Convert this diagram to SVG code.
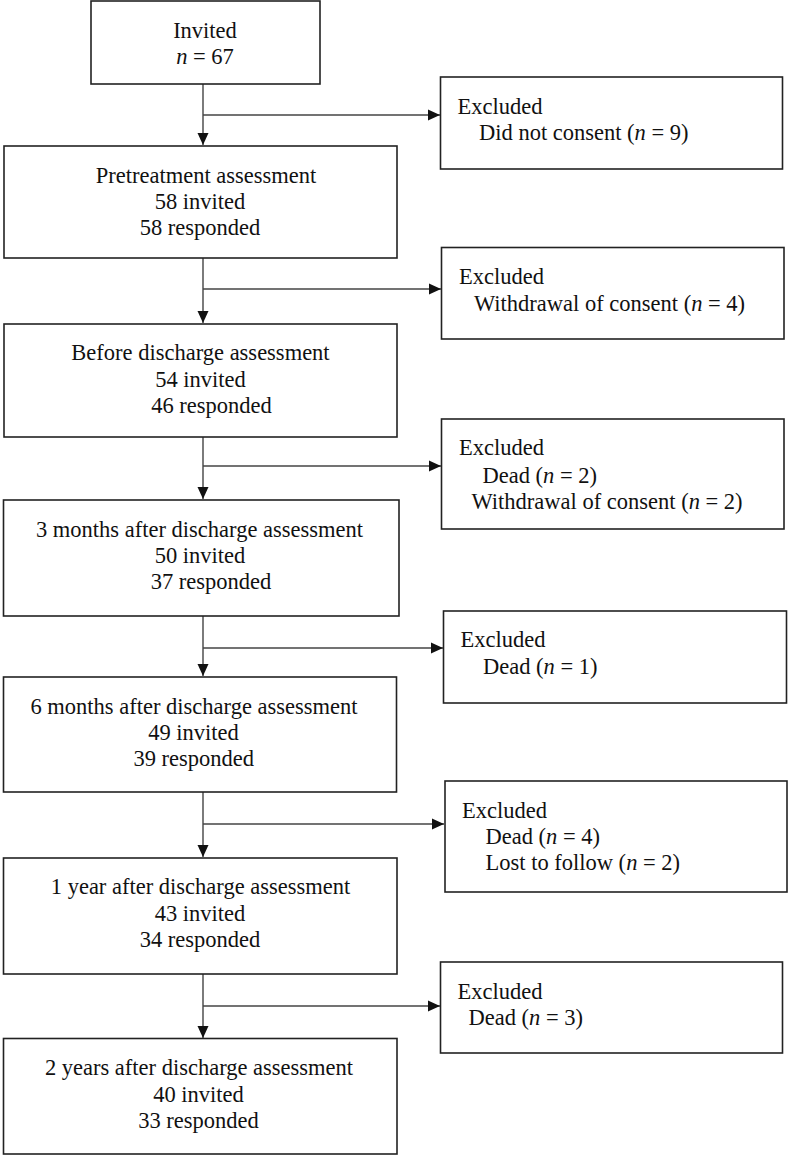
<svg xmlns="http://www.w3.org/2000/svg" width="788" height="1155" viewBox="0 0 788 1155" font-family="'Liberation Serif', 'Times New Roman', 'DejaVu Serif', serif">
<defs>
<style>
.box{fill:#fff;stroke:#222;stroke-width:1.6}
text{font-family:'Liberation Serif','Times New Roman','DejaVu Serif',serif;font-size:22.5px;fill:#111}
.c{text-anchor:middle}
.i{font-style:italic}
.conn{fill:none;stroke:#444;stroke-width:1.4}
</style>
<marker id="ah" viewBox="0 0 12 12" refX="12" refY="6" markerWidth="12" markerHeight="12" markerUnits="userSpaceOnUse" orient="auto"><path d="M0,0.5 L12,6 L0,11.5 z" fill="#111"/></marker>
</defs>
<rect width="788" height="1155" fill="#fff"/>
<g id="connectors">
<path class="conn" d="M203,84 V145" marker-end="url(#ah)"/>
<path class="conn" d="M203,115 H440" marker-end="url(#ah)"/>
<path class="conn" d="M203,258 V323" marker-end="url(#ah)"/>
<path class="conn" d="M203,289 H441" marker-end="url(#ah)"/>
<path class="conn" d="M203,437 V499" marker-end="url(#ah)"/>
<path class="conn" d="M203,466 H441" marker-end="url(#ah)"/>
<path class="conn" d="M203,616 V676" marker-end="url(#ah)"/>
<path class="conn" d="M203,648 H443" marker-end="url(#ah)"/>
<path class="conn" d="M203,792 V857" marker-end="url(#ah)"/>
<path class="conn" d="M203,824 H444" marker-end="url(#ah)"/>
<path class="conn" d="M203,974 V1038" marker-end="url(#ah)"/>
<path class="conn" d="M203,1006 H440" marker-end="url(#ah)"/>
</g>
<g id="invited">
<rect class="box" x="91" y="1" width="229" height="83"/>
<text class="c" x="205" y="38">Invited</text>
<text class="c" x="205" y="64"><tspan class="i">n</tspan> = 67</text>
</g>
<g id="pretreatment">
<rect class="box" x="4" y="146" width="393" height="112"/>
<text class="c" x="206" y="183">Pretreatment assessment</text>
<text class="c" x="200" y="209">58 invited</text>
<text class="c" x="200" y="235">58 responded</text>
</g>
<g id="before-discharge">
<rect class="box" x="4" y="324" width="393" height="113"/>
<text class="c" x="200.5" y="360">Before discharge assessment</text>
<text class="c" x="200.5" y="386.5">54 invited</text>
<text class="c" x="211.5" y="412.5">46 responded</text>
</g>
<g id="three-months">
<rect class="box" x="3.5" y="500" width="395.5" height="116"/>
<text class="c" x="199.5" y="536.5">3 months after discharge assessment</text>
<text class="c" x="200" y="563">50 invited</text>
<text class="c" x="211" y="589">37 responded</text>
</g>
<g id="six-months">
<rect class="box" x="3.5" y="677" width="393" height="115"/>
<text class="c" x="194" y="713.5">6 months after discharge assessment</text>
<text class="c" x="193.5" y="739.5">49 invited</text>
<text class="c" x="193.7" y="765.5">39 responded</text>
</g>
<g id="one-year">
<rect class="box" x="3.5" y="858" width="393.5" height="116"/>
<text class="c" x="200.5" y="894">1 year after discharge assessment</text>
<text class="c" x="200" y="920.5">43 invited</text>
<text class="c" x="200" y="946.5">34 responded</text>
</g>
<g id="two-years">
<rect class="box" x="3.5" y="1038.5" width="393.5" height="115.5"/>
<text class="c" x="199" y="1075">2 years after discharge assessment</text>
<text class="c" x="198.5" y="1101.5">40 invited</text>
<text class="c" x="198.5" y="1127.5">33 responded</text>
</g>
<g id="excluded-1">
<rect class="box" x="440.5" y="77" width="342" height="92"/>
<text x="457.5" y="114">Excluded</text>
<text x="479" y="140">Did not consent (<tspan class="i">n</tspan> = 9)</text>
</g>
<g id="excluded-2">
<rect class="box" x="441.5" y="247.5" width="342.5" height="91.5"/>
<text x="459" y="284">Excluded</text>
<text x="474" y="310.5">Withdrawal of consent (<tspan class="i">n</tspan> = 4)</text>
</g>
<g id="excluded-3">
<rect class="box" x="441.5" y="419" width="342.5" height="110"/>
<text x="459" y="455">Excluded</text>
<text x="482.5" y="482.5">Dead (<tspan class="i">n</tspan> = 2)</text>
<text x="471.5" y="509">Withdrawal of consent (<tspan class="i">n</tspan> = 2)</text>
</g>
<g id="excluded-4">
<rect class="box" x="443.5" y="611" width="343" height="92"/>
<text x="460.5" y="647">Excluded</text>
<text x="483" y="674">Dead (<tspan class="i">n</tspan> = 1)</text>
</g>
<g id="excluded-5">
<rect class="box" x="445" y="781" width="342" height="111"/>
<text x="462" y="818">Excluded</text>
<text x="485.5" y="844">Dead (<tspan class="i">n</tspan> = 4)</text>
<text x="485.5" y="870">Lost to follow (<tspan class="i">n</tspan> = 2)</text>
</g>
<g id="excluded-6">
<rect class="box" x="440.5" y="962" width="342" height="91"/>
<text x="457.5" y="999">Excluded</text>
<text x="468.5" y="1025">Dead (<tspan class="i">n</tspan> = 3)</text>
</g>
</svg>
